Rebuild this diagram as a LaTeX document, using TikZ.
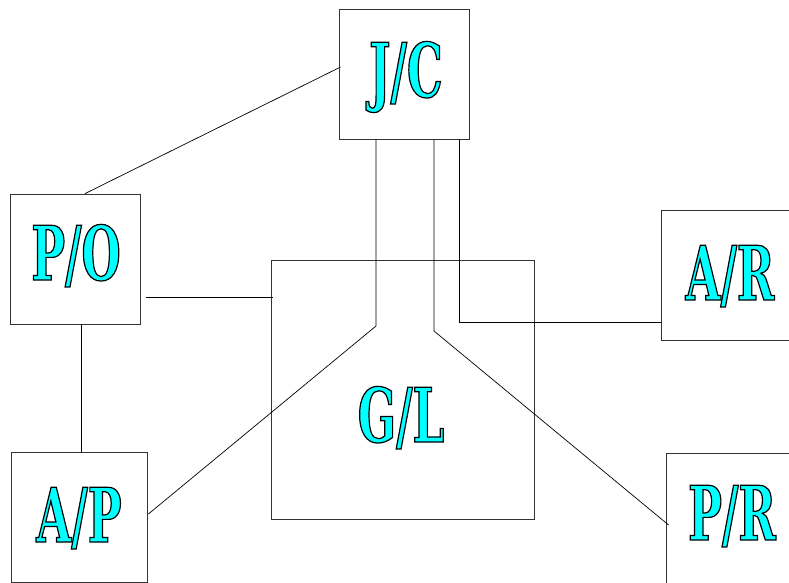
\documentclass[tikz,border=0pt]{standalone}
\usepackage{fontspec}
\usetikzlibrary{calc}
\definecolor{aqua}{RGB}{0,255,255}
% Condensed slab letters: emboldened text is filled cyan and stroked black
\newfontfamily\labelfont[FakeStretch=0.6,FakeBold=1.6]{DejaVu Serif Bold}
\newcommand{\outlined}[1]{%
  {\labelfont\fontsize{75}{80}\selectfont\color{aqua}%
   \special{pdf:literal direct 0 0 0 RG}#1}}
\tikzset{
  unit/.style={draw=black!80, line width=0.8pt, minimum width=130pt,
    minimum height=130pt, inner sep=0pt},
  lbl/.style={anchor=base, inner sep=0pt},
  link/.style={draw=black, line width=0.7pt}
}
\begin{document}
\begin{tikzpicture}[x=1pt,y=-1pt]
  \useasboundingbox (0,0) rectangle (789,582);
  \clip (0,0) rectangle (789,582);
  \fill[white] (0,0) rectangle (789,582);

  % departments
  \node[unit] (jc) at (404,74) {};
  \node[unit] (po) at (75,259) {};
  \node[unit] (ar) at (726,275) {};
  \node[unit, minimum width=136pt] (ap) at (79,517) {};
  \node[unit] (pr) at (731,518) {};
  \node[unit, minimum width=263pt, minimum height=259pt] (gl) at (402.5,389.5) {};

  % labels
  \node[lbl] (jct) at (406,97)  {\outlined{J/C}};
  \node[lbl] (pot) at (76,280)  {\outlined{P/O}};
  \node[lbl] (art) at (730,300) {\outlined{A/R}};
  \node[lbl] (glt) at (401,442) {\outlined{G/L}};
  \node[lbl] (apt) at (79,542)  {\outlined{A/P}};
  \node[lbl] (prt) at (732,540) {\outlined{P/R}};

  % connections
  \coordinate (bendap) at (376,326);
  \coordinate (bendpr) at (434,331);
  \draw[link] ($(jc.west)+(2,-7)$) -- ($(po.north)+(10,0)$);
  \draw[link] ($(po.east)+(6,38)$) -- ($(po.east -| gl.west)+(2,38)$);
  \draw[link] ($(po.south)+(6,0)$) -- ($(po.south |- ap.north)+(6,0)$);
  \draw[link] ($(jc.south)+(-28,0)$) -- (bendap) -- ($(ap.east)+(1,-3)$);
  \draw[link] ($(jc.south)+(30,0)$) -- (bendpr) -- ($(pr.west)+(3,7)$);
  \draw[link] ($(jc.south)+(55,0)$) |- ($(ar.west)+(0,47)$);
\end{tikzpicture}
\end{document}
